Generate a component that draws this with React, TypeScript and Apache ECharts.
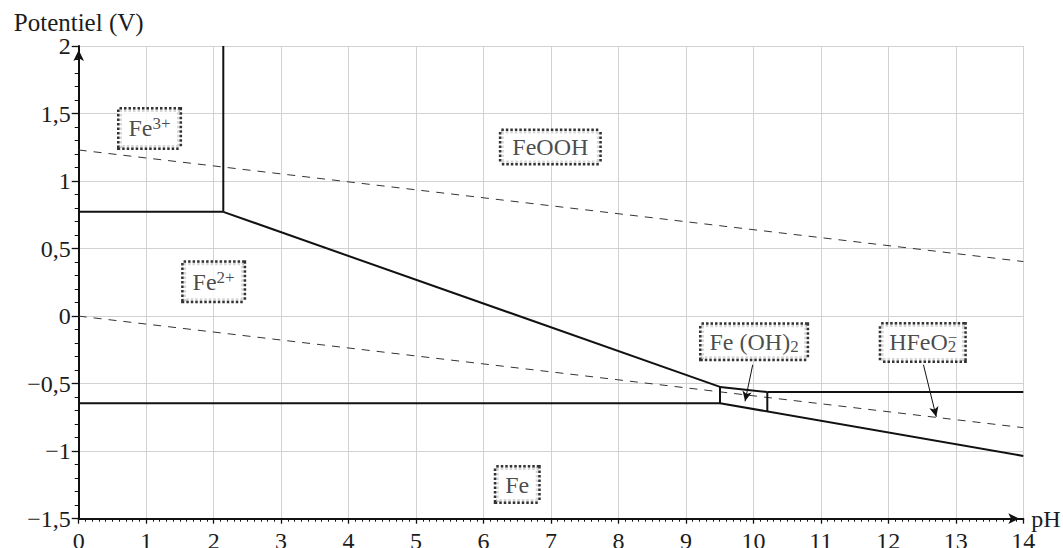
import React, { useEffect, useRef } from "react";
import * as echarts from "echarts";

// Axis ranges
const xMin = 0;
const xMax = 14;
const yMin = -1.5;
const yMax = 2;

// Boundary segments, [pH, E (V)]
const fe3Fe2 = [[0, 0.772], [2.143, 0.772]];
const fe3FeOOH = [[2.143, 0.772], [2.143, 2]];
const fe2FeOOH = [[2.143, 0.772], [9.505, -0.524]];
const fe2Fe = [[0, -0.645], [9.505, -0.645]];
const fe2FeOH2 = [[9.505, -0.645], [9.505, -0.524]];
const feoohFeOH2 = [[9.505, -0.524], [10.206, -0.562]];
const feoohHFeO2 = [[10.206, -0.562], [14, -0.562]];
const feoh2HFeO2 = [[10.206, -0.562], [10.206, -0.706]];
const ironLower = [[9.505, -0.645], [14, -1.035]];

// Water stability lines (dashed)
const waterO2 = [[0, 1.23], [14, 0.404]];
const waterH2 = [[0, 0], [14, -0.826]];

// Species labels (data coordinates of box centres)
const speciesText = [
  "{n|Fe}{sup|3+}",
  "{n|Fe}{sup|2+}",
  "{n|FeOOH}",
  "{n|Fe (OH)}{sub|2}",
  "{n|HFeO}{supz|−}{sub|2}",
  "{n|Fe}",
];
const speciesPos = [
  [1.05, 1.39],
  [2.0, 0.254],
  [6.99, 1.253],
  [10.01, -0.19],
  [12.51, -0.195],
  [6.5, -1.247],
];

// Arrows from label boxes to regions
const arrowFrom = [[9.99, -0.36], [12.52, -0.36]];
const arrowTo = [[9.876, -0.631], [12.71, -0.746]];

const FONT = "'Liberation Serif', 'DejaVu Serif', serif";
const TXT = "#1c1c1c";
const BLK = "#111";

const boxPadding = [
  [6, 9, 6, 9],
  [6, 9, 6, 9],
  [3, 11, 3, 11],
  [4, 8, 4, 8],
  [5, 8, 5, 8],
  [4, 9, 4, 9],
];

export default function App() {
  const ref = useRef<HTMLDivElement>(null);

  useEffect(() => {
    if (!ref.current) return;
    const chart = echarts.init(ref.current, undefined, { renderer: "svg" });

    const solid = (data: number[][]) => ({
      type: "line",
      data,
      symbol: "none",
      silent: true,
      z: 3,
      lineStyle: { color: BLK, width: 2 },
    });
    const dashed = (data: number[][]) => ({
      type: "line",
      data,
      symbol: "none",
      silent: true,
      z: 2,
      lineStyle: { color: "#333", width: 1, type: [8, 7] },
    });

    const rich = {
      n: { fontSize: 24, fontFamily: FONT, color: TXT, lineHeight: 26, align: "left" },
      sup: { fontSize: 17, fontFamily: FONT, color: TXT, lineHeight: 16, verticalAlign: "top", align: "left" },
      sub: { fontSize: 17, fontFamily: FONT, color: TXT, lineHeight: 14, verticalAlign: "bottom", align: "left" },
      supz: { fontSize: 17, fontFamily: FONT, color: TXT, lineHeight: 20, verticalAlign: "top", align: "left", width: 0 },
    };

    const option: any = {
      animation: false,
      grid: {
        left: 78.7,
        right: 39.7,
        top: 46,
        bottom: 29.3,
        containLabel: false,
        outerBoundsMode: "none",
      },
      xAxis: {
        type: "value",
        min: xMin,
        max: xMax,
        interval: 1,
        name: "pH",
        nameLocation: "end",
        nameGap: 8,
        nameMoveOverlap: false,
        nameTextStyle: { fontSize: 24, fontFamily: FONT, color: TXT, verticalAlign: "middle" },
        axisLine: {
          show: true,
          onZero: false,
          symbol: ["none", "arrow"],
          symbolSize: [8, 11],
          symbolOffset: [0, -4],
          lineStyle: { color: BLK, width: 2 },
        },
        axisTick: { show: true, length: 5, lineStyle: { color: BLK, width: 1.3 } },
        minorTick: { show: true, splitNumber: 10, length: 3, lineStyle: { color: BLK, width: 1 } },
        axisLabel: { fontSize: 24, fontFamily: FONT, color: TXT, margin: 10 },
        splitLine: { show: true, lineStyle: { color: "#d2d2d2", width: 1 } },
      },
      yAxis: {
        type: "value",
        min: yMin,
        max: yMax,
        interval: 0.5,
        name: "Potentiel (V)",
        nameLocation: "end",
        nameGap: 12,
        nameMoveOverlap: false,
        nameTextStyle: { fontSize: 25, fontFamily: FONT, color: TXT, lineHeight: 24 },
        axisLine: {
          show: true,
          onZero: false,
          symbol: ["none", "arrow"],
          symbolSize: [8, 11],
          symbolOffset: [0, -4],
          lineStyle: { color: BLK, width: 2 },
        },
        axisTick: { show: true, length: 7, lineStyle: { color: BLK, width: 1.3 } },
        minorTick: { show: true, splitNumber: 5, length: 4, lineStyle: { color: BLK, width: 1 } },
        axisLabel: {
          fontSize: 24,
          fontFamily: FONT,
          color: TXT,
          margin: 8,
          formatter: (v: number) => String(v).replace(".", ",").replace("-", "−"),
        },
        splitLine: { show: true, lineStyle: { color: "#d2d2d2", width: 1 } },
      },
      series: [
        dashed(waterO2),
        dashed(waterH2),
        solid(fe3Fe2),
        solid(fe3FeOOH),
        solid(fe2FeOOH),
        solid(fe2Fe),
        solid(fe2FeOH2),
        solid(feoohFeOH2),
        solid(feoohHFeO2),
        solid(feoh2HFeO2),
        solid(ironLower),
        {
          type: "line",
          data: [],
          symbol: "none",
          silent: true,
          z: 4,
          markLine: {
            silent: true,
            animation: false,
            symbol: ["none", "arrow"],
            symbolSize: [7, 10],
            label: { show: false },
            lineStyle: { color: BLK, width: 1, type: "solid" },
            data: arrowFrom.map((f, i) => [{ coord: f }, { coord: arrowTo[i] }]),
          },
        },
        {
          type: "scatter",
          symbolSize: 0,
          silent: true,
          z: 10,
          data: speciesPos.map((p, i) => ({
            value: p,
            label: {
              show: true,
              position: "inside",
              formatter: speciesText[i],
              rich,
              backgroundColor: "#fff",
              borderColor: "#000",
              borderWidth: 2.5,
              borderType: [2.5, 2],
              padding: boxPadding[i],
            },
          })),
        },
      ],
    };

    chart.setOption(option);
    return () => chart.dispose();
  }, []);

  return (
    <div
      ref={ref}
      style={{ position: "absolute", left: 0, top: 0, width: 1063, height: 548, background: "#fff" }}
    />
  );
}
